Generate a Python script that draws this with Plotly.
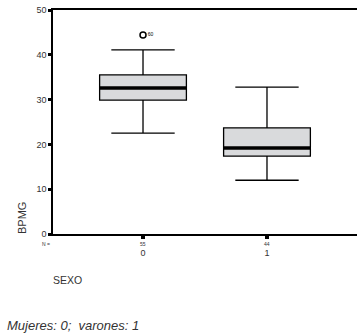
import plotly.graph_objects as go

categories = [0, 1]
n_counts = [55, 44]
q1 = [29.9, 17.4]
median = [32.6, 19.2]
q3 = [35.5, 23.7]
lower = [22.5, 12.0]
upper = [41.1, 32.8]
outlier_x = [0]
outlier_y = [44.4]
outlier_label = ["60"]
y_ticks = [0, 10, 20, 30, 40, 50]

FONT = "Liberation Sans, Arial, sans-serif"
box_w = 0.70

fig = go.Figure()
fig.add_trace(go.Box(
    x=categories, q1=q1, median=median, q3=q3,
    lowerfence=lower, upperfence=upper,
    fillcolor="#d9dadc", line=dict(color="black", width=1.3),
    width=box_w, whiskerwidth=0.73, boxpoints=False, showlegend=False,
))
for c, m in zip(categories, median):
    fig.add_trace(go.Scatter(
        x=[c - box_w / 2, c + box_w / 2], y=[m, m], mode="lines",
        line=dict(color="black", width=3.5), showlegend=False, hoverinfo="skip",
    ))
fig.add_trace(go.Scatter(
    x=outlier_x, y=outlier_y, mode="markers+text",
    marker=dict(symbol="circle-open", size=6, color="black", line=dict(width=1.5)),
    text=outlier_label, textposition="middle right",
    textfont=dict(size=5, family=FONT, color="black"), showlegend=False,
))

PW, PH = 304, 224
fig.update_layout(
    width=357, height=334,
    margin=dict(l=53, r=0, t=10, b=100, autoexpand=False),
    plot_bgcolor="white", paper_bgcolor="white",
    font=dict(family=FONT, color="#222"),
)
fig.update_xaxes(
    range=[-0.726, 1.726], tickvals=categories, ticktext=[str(c) for c in categories],
    showgrid=False, zeroline=False, showline=True, linecolor="black", linewidth=1.5,
    mirror=True, ticks="outside", ticklen=3, tickwidth=4, tickcolor="black",
    tickfont=dict(size=9, family=FONT, color="#333"), ticklabelstandoff=6,
)
fig.update_yaxes(
    range=[0, 50], tickvals=y_ticks, showgrid=False, zeroline=False,
    showline=True, linecolor="black", linewidth=1.5,
    ticks="outside", ticklen=3, tickwidth=3, tickcolor="black",
    tickfont=dict(size=9, family=FONT, color="#333"),
)
for c, n in zip(categories, n_counts):
    fig.add_annotation(x=c, y=-5 / PH, xref="x", yref="paper", text=str(n),
                       showarrow=False, font=dict(size=5, family=FONT, color="#333"),
                       yanchor="top")
fig.add_annotation(text="N =", showarrow=False, xref="paper", yref="paper",
                   x=-1 / PW, y=-5 / PH, xanchor="right", yanchor="top",
                   font=dict(size=5, family=FONT, color="#333"))
fig.add_annotation(text="BPMG", textangle=-90, showarrow=False,
                   xref="paper", yref="paper", x=-31 / PW, y=(234 - 218) / PH,
                   xanchor="center", yanchor="middle",
                   font=dict(size=11, family=FONT, color="#333"))
fig.add_annotation(text="SEXO", showarrow=False, xref="paper", yref="paper",
                   x=-(53 - 51) / PW, y=-(280 - 234) / PH, xanchor="left", yanchor="middle",
                   font=dict(size=10.5, family=FONT, color="#333"))
fig.add_annotation(text="<i>Mujeres: 0;  varones: 1</i>", showarrow=False,
                   xref="paper", yref="paper", x=-48 / PW, y=-(325 - 234) / PH,
                   xanchor="left", yanchor="middle",
                   font=dict(size=13, family=FONT, color="#333"))

fig.write_html("out.html", config={"displayModeBar": False},
               post_script="document.body.style.margin='0';")
